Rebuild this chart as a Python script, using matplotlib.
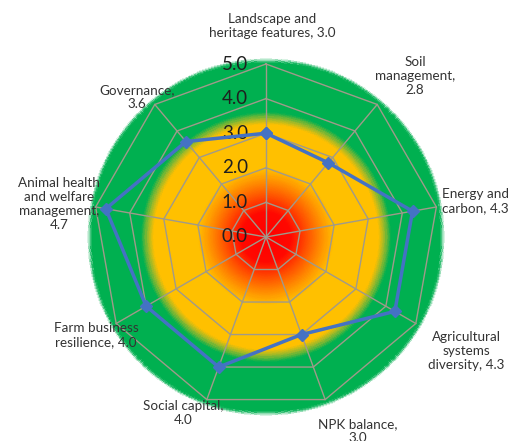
import numpy as np
import matplotlib
matplotlib.use("Agg")
import matplotlib.pyplot as plt
from matplotlib.colors import LinearSegmentedColormap, to_rgba

plt.rcParams['font.family'] = ['Lato', 'DejaVu Sans']

# Scores per sustainability theme (0-5 scale)
categories = [
    "Landscape and\nheritage features",
    "Soil\nmanagement",
    "Energy and\ncarbon",
    "Agricultural\nsystems\ndiversity",
    "NPK balance",
    "Social capital",
    "Farm business\nresilience",
    "Animal health\nand welfare\nmanagement",
    "Governance",
]
scores = [3.0, 2.8, 4.3, 4.3, 3.0, 4.0, 4.0, 4.7, 3.6]
rings = [1.0, 2.0, 3.0, 4.0, 5.0]
tick_labels = ["0.0", "1.0", "2.0", "3.0", "4.0", "5.0"]

# label text as "name, value" with the line break chosen per label
label_texts = [
    "Landscape and\nheritage features, 3.0",
    "Soil\nmanagement,\n2.8",
    "Energy and\ncarbon, 4.3",
    "Agricultural\nsystems\ndiversity, 4.3",
    "NPK balance,\n3.0",
    "Social capital,\n4.0",
    "Farm business\nresilience, 4.0",
    "Animal health\nand welfare\nmanagement,\n4.7",
    "Governance,\n3.6",
]
# label centres in figure pixels (x, y from top)
label_pos = [(272, 26), (415, 76), (475, 201), (466, 351), (358, 431),
             (183, 413), (96, 335), (59, 204), (137, 97)]

W, H = 517, 441
fig = plt.figure(figsize=(W / 100, H / 100), dpi=100)

rmax = 5.2
px_per_unit = 34.6
cx, cy = 266, 237
rad_px = rmax * px_per_unit
ax = fig.add_axes([(cx - rad_px) / W, (H - cy - rad_px) / H,
                   2 * rad_px / W, 2 * rad_px / H], projection='polar')
ax.set_theta_offset(np.pi / 2)
ax.set_theta_direction(-1)
ax.set_ylim(0, rmax)
ax.axis('off')

# radial traffic-light background: red centre -> amber -> green rim
stops = [
    (0.0, to_rgba('#FF0000')),
    (0.7 / rmax, to_rgba('#FF0800')),
    (1.35 / rmax, to_rgba('#FF6a00')),
    (1.95 / rmax, to_rgba('#FFC000')),
    (3.25 / rmax, to_rgba('#FFC000')),
    (3.42 / rmax, to_rgba('#9CB82A')),
    (3.6 / rmax, to_rgba('#00B050')),
    (5.04 / rmax, to_rgba('#00B050')),
    (5.18 / rmax, to_rgba('#00B050', 0.0)),
    (1.0, to_rgba('#00B050', 0.0)),
]
cmap = LinearSegmentedColormap.from_list('rag', stops)
th = np.linspace(0, 2 * np.pi, 361)
rr = np.linspace(0, rmax, 260)
TH, RR = np.meshgrid(th, rr)
ax.pcolormesh(TH, RR, RR[:-1, :-1], cmap=cmap, vmin=0, vmax=rmax,
              shading='flat', zorder=0, rasterized=True)

n = len(categories)
angles = np.arange(n) * 2 * np.pi / n
closed = np.append(angles, angles[0])

# web grid
grid_col = '#A09A8A'
for r in rings:
    ax.plot(closed, [r] * (n + 1), color=grid_col, lw=1.0, zorder=1)
for a in angles:
    ax.plot([a, a], [0, rings[-1]], color=grid_col, lw=1.0, zorder=1)

# scale labels along the top spoke
for t in tick_labels:
    ax.annotate(t, xy=(0, float(t)), xytext=(-13, 0), textcoords='offset points',
                ha='right', va='center', fontsize=13.5, color='#1f1f1f', zorder=3)

# score polygon
ax.plot(closed, scores + scores[:1], color='#4472C4', lw=2.5,
        marker='D', markersize=6, zorder=4)

for txt, (x, y) in zip(label_texts, label_pos):
    fig.text(x / W, 1 - y / H, txt, ha='center', va='center',
             multialignment='center', fontsize=9.7, color='#333333',
             linespacing=1.2)

fig.savefig('out.png', dpi=100)
